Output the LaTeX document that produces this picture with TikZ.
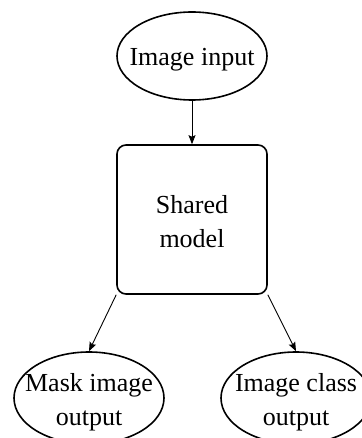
\documentclass[tikz,border=0pt]{standalone}
\usepackage{fontspec}
\setmainfont{Liberation Serif}
\usetikzlibrary{shapes.geometric,arrows.meta}
\begin{document}
\begin{tikzpicture}[x=1pt,y=-1pt,
  every node/.style={font=\fontsize{26}{34}\selectfont, align=center, inner sep=0pt},
  oval/.style={ellipse, draw, line width=1.6pt, minimum width=150pt, minimum height=88pt},
  block/.style={rectangle, rounded corners=9pt, draw, line width=1.6pt,
    minimum width=150pt, minimum height=149pt},
  caption/.style={align=center, yshift=-4pt},
  link/.style={draw, line width=0.9pt, -{Stealth[length=9pt,width=7pt,inset=1.5pt]}}]
\useasboundingbox (0,0) rectangle (361,438);
% input, shared model and the two output heads
% (the text is set as a centred label so each shape keeps its fixed size)
\node[oval, label={[name=inT, caption]center:Image input}] (in) at (192,56) {};
\node[block, label={[name=modelT, caption, yshift=2pt]center:Shared\\model}] (model) at (192,219.5) {};
\node[oval, minimum height=92pt, label={[name=maskT, caption]center:Mask image\\output}] (mask) at (89,398) {};
\node[oval, minimum height=92pt, label={[name=clsT, caption]center:Image class\\output}] (cls) at (296,398) {};
% data flow
\draw[link] (in) -- (model);
\draw[link] (model.south west) -- (mask.north);
\draw[link] (model.south east) -- (cls.north);
\end{tikzpicture}
\end{document}
